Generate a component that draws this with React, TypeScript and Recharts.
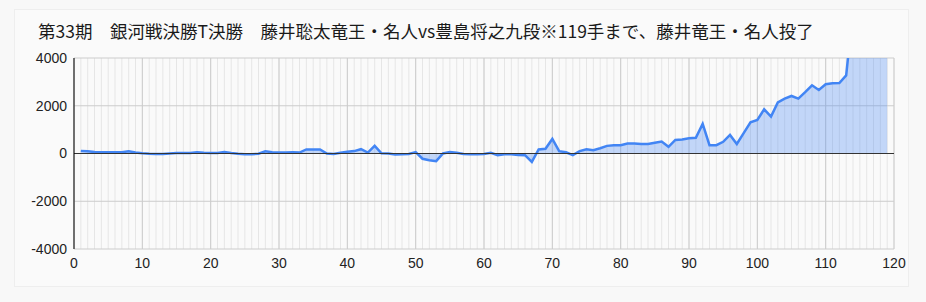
import { ComposedChart, Area, XAxis, YAxis, CartesianGrid, ReferenceLine } from "recharts";

const TITLE = "第33期　銀河戦決勝T決勝　藤井聡太竜王・名人vs豊島将之九段※119手まで、藤井竜王・名人投了";

// evaluation per move (move 1..119)
const moves = Array.from({ length: 119 }, (_, i) => i + 1);
const evals = [
  110, 90, 60, 50, 50, 50, 50, 90, 40, 10,
  -10, -20, -20, 0, 20, 20, 20, 50, 30, 20,
  20, 60, 20, -10, -30, -30, -10, 90, 50, 40,
  40, 50, 40, 170, 170, 170, 0, -20, 30, 70,
  100, 180, 40, 320, 10, 0, -40, -30, -20, 60,
  -220, -280, -320, 0, 60, 30, -20, -30, -30, -20,
  30, -70, -30, -30, -60, -70, -350, 170, 200, 610,
  100, 50, -70, 100, 180, 140, 220, 320, 350, 350,
  420, 420, 400, 400, 450, 500, 280, 570, 590, 640,
  660, 1240, 350, 350, 490, 780, 400, 855, 1310, 1410,
  1850, 1545, 2140, 2300, 2410, 2300, 2570, 2855, 2660, 2900,
  2940, 2950, 3270, 6000, 7500, 9000, 9999, 9999, 9999,
];

const xTicks = [0, 10, 20, 30, 40, 50, 60, 70, 80, 90, 100, 110, 120];
const minorTicks = Array.from({ length: 121 }, (_, i) => i);
const yTicks = [-4000, -2000, 0, 2000, 4000];

const data = moves.map((m, i) => ({ move: m, v: evals[i] }));

const tickStyle = { fontSize: 14, fill: "#222", fontFamily: "'Liberation Sans', Arial, sans-serif" };

export default function App() {
  return (
    <div style={{ position: "absolute", left: 0, top: 0, width: 926, height: 302, background: "#f8f8f8" }}>
      <div
        style={{
          position: "absolute",
          left: 14,
          top: 9,
          width: 893,
          height: 276,
          background: "#fafafa",
          border: "1px solid #eeeeee",
        }}
      />
      <div
        style={{
          position: "absolute",
          left: 38,
          top: 19,
          fontSize: 17.5,
          lineHeight: "24px",
          color: "#1a1a1a",
          fontFamily: "'Noto Sans CJK JP', sans-serif",
          whiteSpace: "nowrap",
        }}
      >
        {TITLE}
      </div>
      <div style={{ position: "absolute", left: 0, top: 0 }}>
        <ComposedChart width={926} height={302} data={data} margin={{ top: 58, right: 32, bottom: 23, left: 14 }}>
          <XAxis xAxisId="minor" dataKey="move" type="number" domain={[0, 120]} ticks={minorTicks} interval={0} hide />
          <CartesianGrid xAxisId="minor" horizontal={false} stroke="#e6e6e6" />
          <CartesianGrid stroke="#cccccc" />
          <XAxis
            dataKey="move"
            type="number"
            domain={[0, 120]}
            ticks={xTicks}
            axisLine={false}
            tickLine={false}
            tickMargin={3}
            height={30}
            tick={tickStyle}
            interval={0}
          />
          <YAxis
            type="number"
            domain={[-4000, 4000]}
            ticks={yTicks}
            allowDataOverflow
            width={60}
            axisLine={{ stroke: "#000", strokeWidth: 1 }}
            tickLine={false}
            tickMargin={1}
            tick={tickStyle}
            interval={0}
          />
          <ReferenceLine y={0} stroke="#333" strokeWidth={1} />
          <Area
            dataKey="v"
            type="linear"
            stroke="#4285f4"
            strokeWidth={2.5}
            fill="#4285f4"
            fillOpacity={0.3}
            dot={false}
            activeDot={false}
            isAnimationActive={false}
          />
        </ComposedChart>
      </div>
    </div>
  );
}
